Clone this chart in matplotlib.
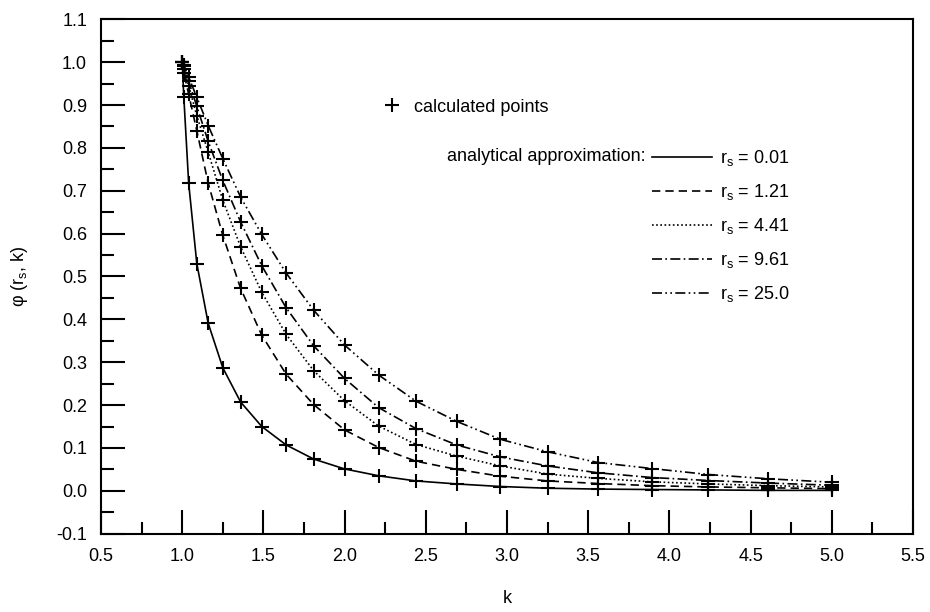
import matplotlib
matplotlib.use("Agg")
import matplotlib.pyplot as plt
from matplotlib.lines import Line2D
from matplotlib.ticker import MultipleLocator, FormatStrFormatter

plt.rcParams["font.family"] = ["Liberation Sans", "DejaVu Sans"]
plt.rcParams["mathtext.fontset"] = "custom"
plt.rcParams["mathtext.rm"] = "Liberation Sans"
plt.rcParams["axes.unicode_minus"] = False

# k points (same for every r_s)
k = [1.00, 1.01, 1.04, 1.09, 1.16, 1.25, 1.36, 1.49, 1.64, 1.81, 2.00,
     2.21, 2.44, 2.69, 2.96, 3.25, 3.56, 3.89, 4.24, 4.61, 5.00]

phi_001 = [1.000, 0.918, 0.717, 0.530, 0.391, 0.287, 0.207, 0.150, 0.107, 0.074, 0.051,
           0.035, 0.023, 0.016, 0.010, 0.006, 0.004, 0.003, 0.002, 0.001, 0.001]
phi_121 = [1.000, 0.975, 0.925, 0.840, 0.718, 0.596, 0.472, 0.363, 0.272, 0.201, 0.142,
           0.101, 0.069, 0.050, 0.034, 0.023, 0.017, 0.012, 0.009, 0.007, 0.005]
phi_441 = [1.000, 0.985, 0.945, 0.875, 0.790, 0.678, 0.569, 0.463, 0.365, 0.280, 0.210,
           0.151, 0.108, 0.081, 0.058, 0.039, 0.029, 0.021, 0.016, 0.012, 0.009]
phi_961 = [1.000, 0.990, 0.955, 0.897, 0.815, 0.724, 0.627, 0.525, 0.427, 0.338, 0.262,
           0.194, 0.145, 0.107, 0.079, 0.058, 0.042, 0.031, 0.024, 0.018, 0.013]
phi_250 = [1.000, 0.993, 0.965, 0.918, 0.852, 0.775, 0.685, 0.598, 0.508, 0.421, 0.340,
           0.270, 0.209, 0.162, 0.120, 0.091, 0.066, 0.052, 0.038, 0.028, 0.020]

rs_labels = ["0.01", "1.21", "4.41", "9.61", "25.0"]
series = [phi_001, phi_121, phi_441, phi_961, phi_250]
STYLES = ["-", (0, (5, 3)), (0, (1, 1.5)), (0, (6, 2, 1, 2)), (0, (6, 2, 1, 2, 1, 2))]

fig = plt.figure(figsize=(9.3, 6.12), dpi=100)
ax = fig.add_axes([0.1086, 0.128, 0.8731, 0.8405])

handles = []
for vals, lab, ls in zip(series, rs_labels, STYLES):
    h, = ax.plot(k, vals, color="black", linestyle=ls, linewidth=1.2,
                 label=r"r$_\mathregular{s}$ = " + lab)
    ax.plot(k, vals, linestyle="none", marker="+", markersize=10,
            markeredgewidth=1.5, color="black")
    handles.append(h)

ax.set_xlim(0.5, 5.5)
ax.set_ylim(-0.1, 1.1)
ax.xaxis.set_major_locator(MultipleLocator(0.5))
ax.xaxis.set_minor_locator(MultipleLocator(0.25))
ax.yaxis.set_major_locator(MultipleLocator(0.1))
ax.yaxis.set_minor_locator(MultipleLocator(0.05))
ax.xaxis.set_major_formatter(FormatStrFormatter("%.1f"))
ax.yaxis.set_major_formatter(FormatStrFormatter("%.1f"))
ax.tick_params(which="both", direction="in", top=False, right=False,
               labelsize=13, width=1.5)
ax.tick_params(which="major", length=17, pad=10)
ax.tick_params(which="minor", length=9)
for s in ax.spines.values():
    s.set_linewidth(1.5)

ax.set_xlabel("k", fontsize=13, labelpad=18)
ax.set_ylabel(r"φ (r$_\mathregular{s}$, k)", fontsize=13, labelpad=19)

pts = Line2D([], [], linestyle="none", marker="+", markersize=10,
             markeredgewidth=1.5, color="black")
leg1 = ax.legend([pts], ["calculated points"], loc="center left",
                 bbox_to_anchor=(0.345, 0.829), frameon=False, fontsize=13,
                 handlelength=1.2, handletextpad=0.6, borderpad=0, borderaxespad=0)
ax.add_artist(leg1)

ax.legend(handles=handles, loc="upper left", bbox_to_anchor=(0.6786, 0.750),
          frameon=False, fontsize=13, handlelength=3.3, handletextpad=0.45,
          labelspacing=0.78, borderpad=0, borderaxespad=0)
ax.text(0.670, 0.734, "analytical approximation:", transform=ax.transAxes,
        ha="right", va="center", fontsize=13)

fig.savefig("out.png", dpi=100)
